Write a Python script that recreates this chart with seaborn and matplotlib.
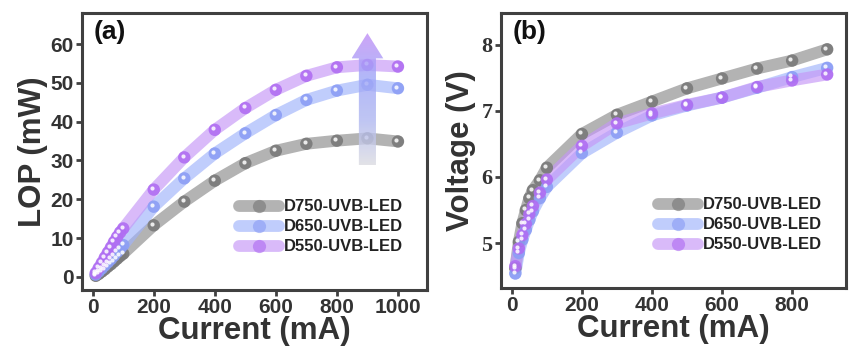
import numpy as np
import pandas as pd
import matplotlib
matplotlib.use('Agg')
import matplotlib.pyplot as plt
import matplotlib.transforms as mtransforms
from matplotlib.lines import Line2D
from matplotlib.patches import Polygon
import seaborn as sns

# ---- data ----
labels = ['D750-UVB-LED', 'D650-UVB-LED', 'D550-UVB-LED']

current_a = [10, 20, 30, 40, 50, 60, 70, 80, 90, 100, 200, 300, 400, 500, 600, 700, 800, 900, 1000]
lop_d750 = [0.3, 0.8, 1.4, 2.0, 2.7, 3.3, 4.0, 4.7, 5.4, 6.0, 13.3, 19.4, 24.8, 29.3, 32.5, 34.3, 35.1, 35.7, 34.9]
lop_d650 = [0.6, 1.4, 2.2, 3.0, 3.8, 4.6, 5.5, 6.4, 7.3, 8.2, 18.1, 25.4, 31.8, 37.0, 41.7, 45.6, 48.0, 49.5, 48.6]
lop_d550 = [1.0, 2.3, 3.6, 5.0, 6.3, 7.6, 9.0, 10.3, 11.5, 12.5, 22.5, 30.8, 37.9, 43.5, 48.2, 51.8, 54.0, 54.6, 54.2]

current_b = [10, 20, 30, 40, 50, 60, 80, 100, 200, 300, 400, 500, 600, 700, 800, 900]
volt_d750 = [4.62, 5.02, 5.30, 5.50, 5.68, 5.80, 5.95, 6.14, 6.65, 6.94, 7.14, 7.34, 7.49, 7.64, 7.76, 7.93]
volt_d650 = [4.54, 4.85, 5.05, 5.20, 5.35, 5.48, 5.68, 5.85, 6.36, 6.67, 6.93, 7.08, 7.20, 7.35, 7.51, 7.65]
volt_d550 = [4.65, 4.92, 5.12, 5.29, 5.44, 5.56, 5.76, 5.96, 6.47, 6.81, 6.96, 7.09, 7.20, 7.36, 7.46, 7.55]

band_colors = ['#8a8a8a', '#9fb2fb', '#c596f7']
dot_colors = ['#7a7a7a', '#8c9ef5', '#b06ef2']
text_color = '#333333'

sns.set_style('ticks')
plt.rcParams['font.family'] = ['Liberation Sans', 'DejaVu Sans']
plt.rcParams['font.weight'] = 'bold'


def long_frame(x, series):
    rows = []
    for lab, vals in zip(labels, series):
        for xi, yi in zip(x, vals):
            rows.append({'current': xi, 'value': yi, 'device': lab})
    return pd.DataFrame(rows)


df_a = long_frame(current_a, [lop_d750, lop_d650, lop_d550])
df_b = long_frame(current_b, [volt_d750, volt_d650, volt_d550])

fig = plt.figure(figsize=(8.66, 3.5), dpi=100)
ax_a = fig.add_axes([0.0947, 0.171, 0.3983, 0.792])
ax_b = fig.add_axes([0.5785, 0.177, 0.3985, 0.786])

shine = mtransforms.ScaledTranslation(-1.2 / 72, 1.2 / 72, fig.dpi_scale_trans)


def draw_series(ax, df):
    for i, lab in enumerate(labels):
        sub = df[df['device'] == lab]
        sns.lineplot(data=sub, x='current', y='value', ax=ax, color=band_colors[i],
                     linewidth=8.5, alpha=0.65, solid_capstyle='round', legend=False)
        sns.scatterplot(data=sub, x='current', y='value', ax=ax, color=dot_colors[i],
                        s=80, edgecolor='none', alpha=0.9, legend=False, zorder=3)
        ax.plot(sub['current'], sub['value'], 'o', color='white', ms=3, alpha=0.85,
                mec='none', transform=ax.transData + shine, zorder=4)


def style_axes(ax):
    for sp in ax.spines.values():
        sp.set_linewidth(2.2)
        sp.set_color('#404040')
    ax.tick_params(direction='out', length=4, width=2, colors='#404040',
                   labelsize=15, labelcolor=text_color, pad=2)
    for t in ax.get_xticklabels() + ax.get_yticklabels():
        t.set_fontweight('bold')


def add_legend(ax, loc_anchor):
    handles = [Line2D([], [], color=band_colors[i], lw=8.5, alpha=0.65, solid_capstyle='round',
                      marker='o', ms=9.5, mfc=dot_colors[i], mec='none')
               for i in range(3)]
    leg = ax.legend(handles, labels, loc='lower right', bbox_to_anchor=loc_anchor, frameon=False,
                    handlelength=2.4, handletextpad=0.3, labelspacing=0.3,
                    prop={'weight': 'bold', 'size': 12})
    for t in leg.get_texts():
        t.set_color('#222222')


# ---- panel (a) ----
draw_series(ax_a, df_a)
ax_a.set_xticks([0, 200, 400, 600, 800, 1000])
ax_a.set_yticks([0, 10, 20, 30, 40, 50, 60])
ax_a.set_xlabel('Current (mA)', fontsize=22.5, fontweight='bold', color=text_color, labelpad=-1)
ax_a.set_ylabel('LOP (mW)', fontsize=22.5, fontweight='bold', color=text_color, labelpad=2)
style_axes(ax_a)
ax_a.text(0.035, 0.975, '(a)', transform=ax_a.transAxes, ha='left', va='top',
          fontsize=19, fontweight='bold', color='#111111')
add_legend(ax_a, (0.975, 0.075))

# gradient arrow (gray -> blue -> purple)
arrow_x, arrow_y0, arrow_y1 = 900, 28.8, 62.8
shaft_w, head_w, head_len = 28, 52, 6.5
arrow = Polygon([(arrow_x - shaft_w, arrow_y0), (arrow_x + shaft_w, arrow_y0),
                 (arrow_x + shaft_w, arrow_y1 - head_len), (arrow_x + head_w, arrow_y1 - head_len),
                 (arrow_x, arrow_y1), (arrow_x - head_w, arrow_y1 - head_len),
                 (arrow_x - shaft_w, arrow_y1 - head_len)],
                closed=True, facecolor='none', edgecolor='none', transform=ax_a.transData)
ax_a.add_patch(arrow)
grad_cmap = matplotlib.colors.LinearSegmentedColormap.from_list(
    'arr', ['#dcdce2', '#b0b8f0', '#9fa6f8', '#c08ef6'])
grad = np.linspace(0, 1, 256).reshape(-1, 1)
im = ax_a.imshow(grad, cmap=grad_cmap, aspect='auto', origin='lower', alpha=0.8,
                 extent=(arrow_x - head_w, arrow_x + head_w, arrow_y0, arrow_y1), zorder=5)
im.set_clip_path(arrow)
ax_a.set_xlim(-35, 1095)
ax_a.set_ylim(-3.4, 68)

# ---- panel (b) ----
draw_series(ax_b, df_b)
ax_b.set_xlim(-31, 954)
ax_b.set_ylim(4.32, 8.48)
ax_b.set_xticks([0, 200, 400, 600, 800])
ax_b.set_yticks([5, 6, 7, 8])
ax_b.set_xlabel('Current (mA)', fontsize=22.5, fontweight='bold', color=text_color, labelpad=-1)
ax_b.set_ylabel('Voltage (V)', fontsize=22.5, fontweight='bold', color=text_color, labelpad=4)
style_axes(ax_b)
for t in ax_b.get_yticklabels():
    t.set_fontfamily('Liberation Serif')
    t.set_fontsize(16)
ax_b.text(0.035, 0.975, '(b)', transform=ax_b.transAxes, ha='left', va='top',
          fontsize=19, fontweight='bold', color='#111111')
add_legend(ax_b, (0.975, 0.075))

fig.savefig('out.png', dpi=100)
